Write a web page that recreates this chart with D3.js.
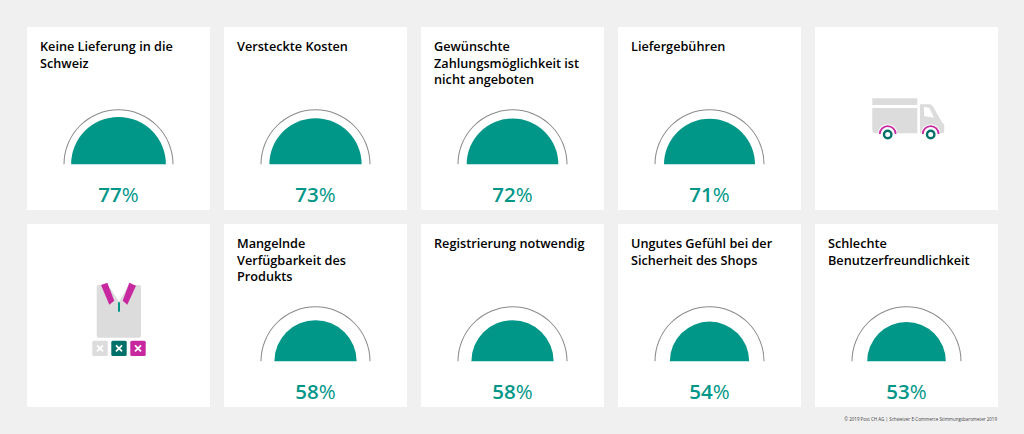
<!DOCTYPE html>
<html>
<head>
<meta charset="utf-8">
<script src="https://cdn.jsdelivr.net/npm/d3@7"></script>
<style>
html, body { margin: 0; padding: 0; background: #f0f0f0; }
svg { display: block; font-family: "Open Sans", sans-serif; }
</style>
</head>
<body>
<svg></svg>
<script>
// null value = card that only holds an icon
var titles = [
    ["Keine Lieferung in die", "Schweiz"],
    ["Versteckte Kosten"],
    ["Gewünschte", "Zahlungsmöglichkeit ist", "nicht angeboten"],
    ["Liefergebühren"],
    [],
    [],
    ["Mangelnde", "Verfügbarkeit des", "Produkts"],
    ["Registrierung notwendig"],
    ["Ungutes Gefühl bei der", "Sicherheit des Shops"],
    ["Schlechte", "Benutzerfreundlichkeit"]
];
var values = [77, 73, 72, 71, null, null, 58, 58, 54, 53];
var source = "© 2019 Post CH AG | Schweizer E-Commerce Stimmungsbarometer 2019";

var svgWidth = 1024, svgHeight = 434, cardSize = 183;
var teal = "#009688", darkTeal = "#00706a", magenta = "#c728a0", grey = "#dcdcdc";

var svg = d3.select("svg")
    .attr("width", svgWidth)
    .attr("height", svgHeight);

var xScale = d3.scaleBand().domain(d3.range(5)).range([27, 998]).paddingInner(14 / 197);
var yScale = d3.scaleBand().domain(d3.range(2)).range([27, 407]).paddingInner(14 / 197);

// area of the half circle stands for the value, the outline is 100%
var rScale = d3.scaleSqrt().domain([0, 100]).range([0, 54]);

var half = d3.arc()
    .innerRadius(0)
    .startAngle(-Math.PI / 2)
    .endAngle(Math.PI / 2);

var cards = svg.selectAll("g.card")
    .data(values.map(function(d, i) { return {value: d, title: titles[i], i: i}; }))
    .enter()
    .append("g")
    .attr("class", "card")
    .attr("transform", function(d) {
        return "translate(" + xScale(d.i % 5) + "," + yScale(Math.floor(d.i / 5)) + ")";
    });

cards.append("rect")
    .attr("width", cardSize)
    .attr("height", cardSize)
    .attr("fill", "#fff");

cards.each(function(d) {
    var g = d3.select(this);
    g.selectAll("text.title")
        .data(d.title)
        .enter()
        .append("text")
        .attr("class", "title")
        .attr("x", 13)
        .attr("y", function(t, i) { return 24 + i * 16.6; })
        .attr("font-size", 12.7)
        .attr("font-weight", 600)
        .attr("fill", "#000")
        .text(function(t) { return t; });

    if (d.value === null) return;

    var gauge = g.append("g").attr("transform", "translate(91.5,137.3)");
    gauge.append("path")
        .attr("d", d3.arc()({innerRadius: rScale(100), outerRadius: rScale(100) + 1,
            startAngle: -Math.PI / 2, endAngle: Math.PI / 2}))
        .attr("fill", "#8a8a8a");
    gauge.append("path")
        .attr("d", half({outerRadius: rScale(d.value)}))
        .attr("fill", teal);

    var label = g.append("text")
        .attr("x", 91.5)
        .attr("y", 174.5)
        .attr("text-anchor", "middle")
        .attr("font-size", 20.5)
        .attr("font-weight", 600)
        .attr("fill", teal);
    label.append("tspan").text(d.value);
    label.append("tspan").attr("font-weight", 400).text("%");
});

// truck icon
var truck = svg.append("g");
truck.append("rect").attr("x", 872.3).attr("y", 98.3).attr("width", 45).attr("height", 6.7).attr("fill", grey);
truck.append("path").attr("d", "M872.3,108H917.3V133.3H876Q872.3,133.3 872.3,129Z").attr("fill", grey);
truck.append("path").attr("d", "M920,104.3L930,104.3Q932,104.5 933,106.5L941.5,121.5L944.3,125V131Q944.3,133.3 942,133.3H920Z").attr("fill", grey);
truck.append("path").attr("d", "M924,106.7L929.5,108L934,117.7L924,116Z").attr("fill", "#fff");
[887.7, 930.7].forEach(function(cx) {
    truck.append("circle").attr("cx", cx).attr("cy", 134).attr("r", 9.8).attr("fill", "#fff");
    truck.append("path")
        .attr("transform", "translate(" + cx + ",134)")
        .attr("d", d3.arc()({innerRadius: 7, outerRadius: 8.8, startAngle: -Math.PI / 2, endAngle: Math.PI / 2}))
        .attr("fill", magenta);
    truck.append("circle").attr("cx", cx).attr("cy", 134.5).attr("r", 3.7)
        .attr("fill", "#fff").attr("stroke", darkTeal).attr("stroke-width", 2.4);
});

// shirt icon
var shirt = svg.append("g");
shirt.append("path").attr("d", "M98.5,285H139Q141,285 141,287V335.5Q141,337.7 139,337.7H98.7Q96.7,337.7 96.7,335.5V287Q96.7,285 98.5,285Z").attr("fill", grey);
shirt.append("path").attr("d", "M107.3,281V284L118.5,300.7H119.5L129.3,284V281Z").attr("fill", "#fff");
shirt.append("path").attr("d", "M101,285L107.3,282.7L114.3,300.7L109.3,304.7Z").attr("fill", magenta);
shirt.append("path").attr("d", "M129.3,282.7L136,285.7L127.3,304.7L122.7,300.7Z").attr("fill", magenta);
shirt.append("rect").attr("x", 118).attr("y", 302.3).attr("width", 2).attr("height", 9.4).attr("fill", teal);

[[92.3, grey], [111.3, darkTeal], [130.3, magenta]].forEach(function(b) {
    shirt.append("rect").attr("x", b[0]).attr("y", 340.7).attr("width", 15.4).attr("height", 15.4)
        .attr("rx", 1.5).attr("fill", b[1]);
    var cx = b[0] + 7.7, cy = 348.4, s = 3;
    shirt.append("path")
        .attr("d", "M" + (cx - s) + "," + (cy - s) + "L" + (cx + s) + "," + (cy + s) +
            "M" + (cx + s) + "," + (cy - s) + "L" + (cx - s) + "," + (cy + s))
        .attr("stroke", "#fff").attr("stroke-width", 1.8);
});

svg.append("text")
    .attr("x", 997)
    .attr("y", 421)
    .attr("text-anchor", "end")
    .attr("font-size", 4.5)
    .attr("fill", "#444")
    .text(source);
</script>
</body>
</html>
